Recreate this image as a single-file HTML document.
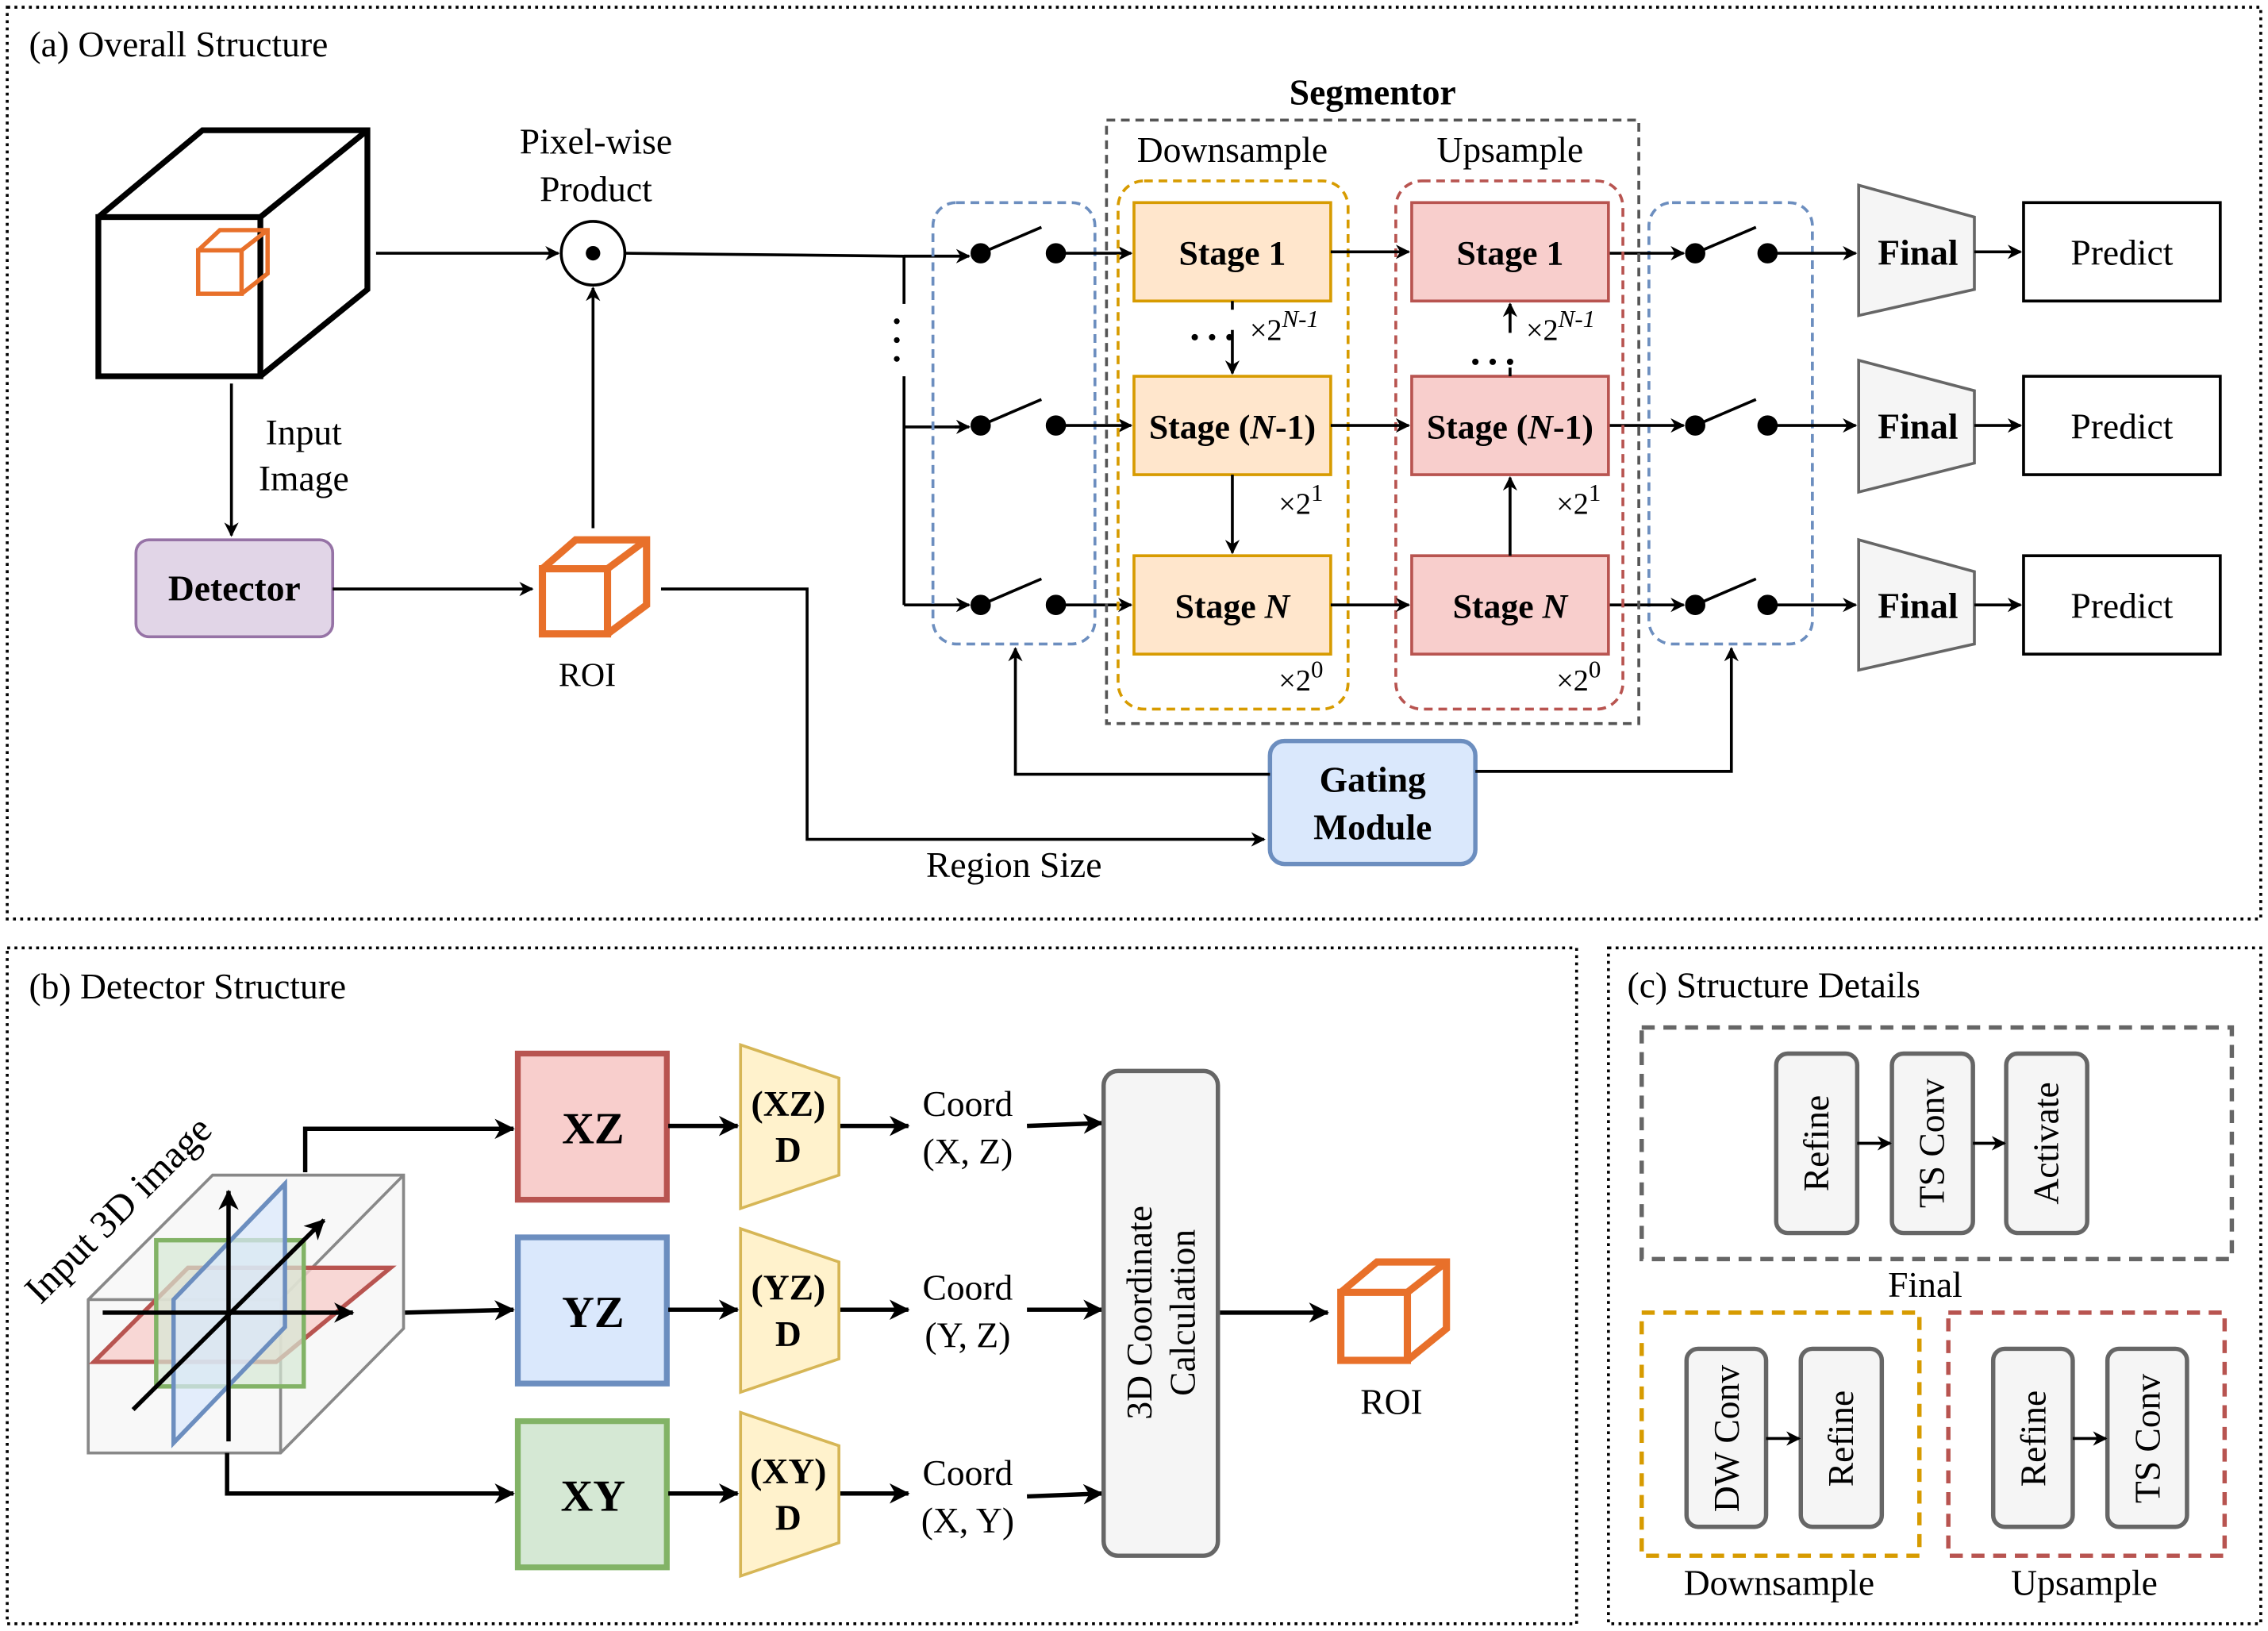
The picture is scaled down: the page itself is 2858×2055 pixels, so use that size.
<!DOCTYPE html>
<html><head><meta charset="utf-8"><style>
html,body{margin:0;padding:0;background:#fff;}
svg{display:block;}
text{font-family:"Liberation Serif",serif;fill:#000;}
.b{font-weight:bold;}
</style></head><body>
<svg width="2858" height="2055" viewBox="0 0 1568 1127" preserveAspectRatio="none" xmlns="http://www.w3.org/2000/svg">
<defs>
<marker id="a" markerWidth="10" markerHeight="10" refX="9" refY="5" orient="auto" markerUnits="userSpaceOnUse"><path d="M0,0 L10,5 L0,10 L3,5 z" fill="#000"/></marker>
<marker id="a2" markerWidth="14" markerHeight="14" refX="13" refY="7" orient="auto" markerUnits="userSpaceOnUse"><path d="M0,0 L14,7 L0,14 L4,7 z" fill="#000"/></marker>
</defs>
<g fill="none" stroke="#000" stroke-width="2" stroke-dasharray="2,3">
<rect x="5" y="5" width="1558" height="630"/>
<rect x="5" y="655" width="1085" height="467"/>
<rect x="1112" y="655" width="451" height="467"/>
</g>
<text x="20" y="39" font-size="25">(a) Overall Structure</text>
<text x="20" y="690" font-size="25">(b) Detector Structure</text>
<text x="1125" y="689" font-size="25">(c) Structure Details</text>

<g fill="none" stroke="#000" stroke-width="4">
<rect x="68" y="150" width="112" height="110"/>
<path d="M68,150 L140,90 L254,90 L254,200 L180,260 M180,150 L254,90"/>
</g>
<g fill="none" stroke="#e8702a" stroke-width="3">
<rect x="137" y="173" width="30" height="30"/><path d="M137,173 L152,159 L185,159 L185,189 L167,203 M167,173 L185,159"/>
</g>
<line x1="260" y1="175" x2="386" y2="175" stroke="#000" stroke-width="2" marker-end="url(#a)"/>
<circle cx="410" cy="175" r="22" fill="#fff" stroke="#000" stroke-width="2"/><circle cx="410" cy="175" r="5"/>
<text x="412" y="106" font-size="25" text-anchor="middle">Pixel-wise</text>
<text x="412" y="139" font-size="25" text-anchor="middle">Product</text>
<line x1="160" y1="265" x2="160" y2="370" stroke="#000" stroke-width="2" marker-end="url(#a)"/>
<text x="210" y="307" font-size="25" text-anchor="middle">Input</text>
<text x="210" y="339" font-size="25" text-anchor="middle">Image</text>
<rect x="94" y="373" width="136" height="67" rx="9" fill="#e1d5e7" stroke="#9673a6" stroke-width="2"/>
<text x="162" y="415" font-size="25" class="b" text-anchor="middle">Detector</text>
<line x1="230" y1="407" x2="368" y2="407" stroke="#000" stroke-width="2" marker-end="url(#a)"/>
<g fill="none" stroke="#e8702a" stroke-width="5">
<rect x="375" y="393" width="45" height="45"/><path d="M375,393 L398,373 L447,373 L447,418 L420,438 M420,393 L447,373"/>
</g>
<text x="406" y="474" font-size="23" text-anchor="middle">ROI</text>
<line x1="410" y1="365" x2="410" y2="199" stroke="#000" stroke-width="2" marker-end="url(#a)"/>
<path d="M457,407 L558,407 L558,580 L874,580" fill="none" stroke="#000" stroke-width="2" marker-end="url(#a)"/>
<text x="701" y="606" font-size="25" text-anchor="middle">Region Size</text>
<rect x="878" y="512" width="142" height="85" rx="10" fill="#dae8fc" stroke="#6c8ebf" stroke-width="3"/>
<text x="949" y="547" font-size="25" class="b" text-anchor="middle">Gating</text>
<text x="949" y="580" font-size="25" class="b" text-anchor="middle">Module</text>
<path d="M878,535 L702,535 L702,448" fill="none" stroke="#000" stroke-width="2" marker-end="url(#a)"/>
<path d="M1020,533 L1197,533 L1197,448" fill="none" stroke="#000" stroke-width="2" marker-end="url(#a)"/>

<path d="M432,175 L625,177 L625,418 M625,295 L668,295 M625,418 L668,418" fill="none" stroke="#000" stroke-width="2"/>
<line x1="625" y1="177" x2="670" y2="177" stroke="#000" stroke-width="2" marker-end="url(#a)"/>
<line x1="660" y1="295" x2="670" y2="295" stroke="#000" stroke-width="2" marker-end="url(#a)"/>
<line x1="660" y1="418" x2="670" y2="418" stroke="#000" stroke-width="2" marker-end="url(#a)"/>
<rect x="614" y="210" width="20" height="50" fill="#fff"/>
<circle cx="620" cy="222" r="2"/><circle cx="620" cy="235" r="2"/><circle cx="620" cy="248" r="2"/>
<rect x="645" y="140" width="112" height="305" rx="16" fill="none" stroke="#6c8ebf" stroke-width="2" stroke-dasharray="6,4"/>
<rect x="1140" y="140" width="113" height="305" rx="16" fill="none" stroke="#6c8ebf" stroke-width="2" stroke-dasharray="6,4"/>
<g stroke="#000" stroke-width="2">
<circle cx="678" cy="175" r="6"/><line x1="678" y1="175" x2="720" y2="157"/><circle cx="730" cy="175" r="6"/><line x1="730" y1="175" x2="782" y2="175" marker-end="url(#a)"/>
<circle cx="678" cy="294" r="6"/><line x1="678" y1="294" x2="720" y2="276"/><circle cx="730" cy="294" r="6"/><line x1="730" y1="294" x2="782" y2="294" marker-end="url(#a)"/>
<circle cx="678" cy="418" r="6"/><line x1="678" y1="418" x2="720" y2="400"/><circle cx="730" cy="418" r="6"/><line x1="730" y1="418" x2="782" y2="418" marker-end="url(#a)"/>
<line x1="1112" y1="175" x2="1164" y2="175" marker-end="url(#a)"/><circle cx="1172" cy="175" r="6"/><line x1="1172" y1="175" x2="1214" y2="157"/><circle cx="1222" cy="175" r="6"/><line x1="1222" y1="175" x2="1283" y2="175" marker-end="url(#a)"/>
<line x1="1112" y1="294" x2="1164" y2="294" marker-end="url(#a)"/><circle cx="1172" cy="294" r="6"/><line x1="1172" y1="294" x2="1214" y2="276"/><circle cx="1222" cy="294" r="6"/><line x1="1222" y1="294" x2="1283" y2="294" marker-end="url(#a)"/>
<line x1="1112" y1="418" x2="1164" y2="418" marker-end="url(#a)"/><circle cx="1172" cy="418" r="6"/><line x1="1172" y1="418" x2="1214" y2="400"/><circle cx="1222" cy="418" r="6"/><line x1="1222" y1="418" x2="1283" y2="418" marker-end="url(#a)"/>
</g>

<rect x="765" y="83" width="368" height="417" fill="none" stroke="#555" stroke-width="2" stroke-dasharray="6,4"/>
<text x="949" y="72" font-size="25" class="b" text-anchor="middle">Segmentor</text>
<text x="852" y="112" font-size="25" text-anchor="middle">Downsample</text>
<text x="1044" y="112" font-size="25" text-anchor="middle">Upsample</text>
<rect x="773" y="125" width="159" height="365" rx="18" fill="none" stroke="#d79b00" stroke-width="2" stroke-dasharray="6,4"/>
<rect x="965" y="125" width="157" height="365" rx="18" fill="none" stroke="#b85450" stroke-width="2" stroke-dasharray="6,4"/>
<g stroke-width="2">
<rect x="784" y="140" width="136" height="68" fill="#ffe6cc" stroke="#d79b00"/>
<rect x="784" y="260" width="136" height="68" fill="#ffe6cc" stroke="#d79b00"/>
<rect x="784" y="384" width="136" height="68" fill="#ffe6cc" stroke="#d79b00"/>
<rect x="976" y="140" width="136" height="68" fill="#f8cecc" stroke="#b85450"/>
<rect x="976" y="260" width="136" height="68" fill="#f8cecc" stroke="#b85450"/>
<rect x="976" y="384" width="136" height="68" fill="#f8cecc" stroke="#b85450"/>
</g>
<g font-size="24" text-anchor="middle">
<text x="852" y="183" class="b">Stage 1</text>
<text x="852" y="303" class="b">Stage (<tspan font-style="italic">N</tspan>-1)</text>
<text x="852" y="427" class="b">Stage <tspan font-style="italic">N</tspan></text>
<text x="1044" y="183" class="b">Stage 1</text>
<text x="1044" y="303" class="b">Stage (<tspan font-style="italic">N</tspan>-1)</text>
<text x="1044" y="427" class="b">Stage <tspan font-style="italic">N</tspan></text>
</g>
<g stroke="#000" stroke-width="2">
<line x1="920" y1="174" x2="974" y2="174" marker-end="url(#a)"/>
<line x1="920" y1="294" x2="974" y2="294" marker-end="url(#a)"/>
<line x1="920" y1="418" x2="974" y2="418" marker-end="url(#a)"/>
<line x1="852" y1="208" x2="852" y2="214"/>
<line x1="852" y1="228" x2="852" y2="258" marker-end="url(#a)"/>
<line x1="852" y1="328" x2="852" y2="382" marker-end="url(#a)"/>
<line x1="1044" y1="384" x2="1044" y2="330" marker-end="url(#a)"/>
<line x1="1044" y1="230" x2="1044" y2="210" marker-end="url(#a)"/>
<line x1="1044" y1="254" x2="1044" y2="260"/>
</g>
<circle cx="826" cy="233" r="2.2"/><circle cx="838" cy="233" r="2.2"/><circle cx="850" cy="233" r="2.2"/>
<circle cx="1020" cy="250" r="2.2"/><circle cx="1032" cy="250" r="2.2"/><circle cx="1044" cy="250" r="2.2"/>
<g font-size="21">
<text x="864" y="235">×2<tspan dy="-9" font-size="17" font-style="italic">N-1</tspan></text>
<text x="1055" y="235">×2<tspan dy="-9" font-size="17" font-style="italic">N-1</tspan></text>
<text x="884" y="355">×2<tspan dy="-9" font-size="17">1</tspan></text>
<text x="1076" y="355">×2<tspan dy="-9" font-size="17">1</tspan></text>
<text x="884" y="477">×2<tspan dy="-9" font-size="17">0</tspan></text>
<text x="1076" y="477">×2<tspan dy="-9" font-size="17">0</tspan></text>
</g>
<g fill="#f5f5f5" stroke="#666" stroke-width="2">
<path d="M1285,128 L1365,150 L1365,200 L1285,218 z"/>
<path d="M1285,249 L1365,270 L1365,320 L1285,340 z"/>
<path d="M1285,373 L1365,395 L1365,445 L1285,463 z"/>
</g>
<g font-size="25" text-anchor="middle">
<text x="1326" y="183" class="b">Final</text><text x="1326" y="303" class="b">Final</text><text x="1326" y="427" class="b">Final</text>
</g>
<g stroke="#000" stroke-width="2">
<line x1="1365" y1="174" x2="1397" y2="174" marker-end="url(#a)"/>
<line x1="1365" y1="294" x2="1397" y2="294" marker-end="url(#a)"/>
<line x1="1365" y1="418" x2="1397" y2="418" marker-end="url(#a)"/>
<rect x="1399" y="140" width="136" height="68" fill="#fff"/>
<rect x="1399" y="260" width="136" height="68" fill="#fff"/>
<rect x="1399" y="384" width="136" height="68" fill="#fff"/>
</g>
<g font-size="25" text-anchor="middle">
<text x="1467" y="183">Predict</text><text x="1467" y="303">Predict</text><text x="1467" y="427">Predict</text>
</g>

<path d="M147,812 L279,812 L279,918 L194,1004 L61,1004 L61,898 z" fill="#f8f8f8" stroke="#888" stroke-width="2"/>
<path d="M61,898 L194,898 L194,1004 M194,898 L279,812" fill="none" stroke="#888" stroke-width="2"/>
<path d="M65,941 L130,876 L270,876 L191,941 z" fill="#f8cecc" fill-opacity="0.8" stroke="#b85450" stroke-width="3"/>
<rect x="108" y="857" width="102" height="101" fill="#d5e8d4" fill-opacity="0.7" stroke="#82b366" stroke-width="3"/>
<path d="M120,997 L120,898 L197,818 L197,917 z" fill="#dae8fc" fill-opacity="0.7" stroke="#6c8ebf" stroke-width="3"/>
<g stroke="#000" stroke-width="3">
<line x1="158" y1="996" x2="158" y2="823" marker-end="url(#a2)"/>
<line x1="71" y1="907" x2="244" y2="907" marker-end="url(#a2)"/>
<line x1="92" y1="974" x2="224" y2="843" marker-end="url(#a2)"/>
</g>
<text x="88" y="842" font-size="27" text-anchor="middle" transform="rotate(-45 88 842)">Input 3D image</text>
<g stroke="#000" stroke-width="3" fill="none">
<path d="M211,810 L211,780 L355,780" marker-end="url(#a2)"/>
<path d="M280,907 L355,905" marker-end="url(#a2)"/>
<path d="M157,1004 L157,1032 L355,1032" marker-end="url(#a2)"/>
</g>
<rect x="358" y="728" width="103" height="101" fill="#f8cecc" stroke="#b85450" stroke-width="4"/>
<rect x="358" y="855" width="103" height="101" fill="#dae8fc" stroke="#6c8ebf" stroke-width="4"/>
<rect x="358" y="982" width="103" height="101" fill="#d5e8d4" stroke="#82b366" stroke-width="4"/>
<g font-size="31" text-anchor="middle">
<text x="410" y="790" class="b">XZ</text><text x="410" y="917" class="b">YZ</text><text x="410" y="1044" class="b">XY</text>
</g>
<g stroke="#000" stroke-width="3">
<line x1="462" y1="778" x2="510" y2="778" marker-end="url(#a2)"/>
<line x1="462" y1="905" x2="510" y2="905" marker-end="url(#a2)"/>
<line x1="462" y1="1032" x2="510" y2="1032" marker-end="url(#a2)"/>
<line x1="580" y1="778" x2="628" y2="778" marker-end="url(#a2)"/>
<line x1="580" y1="905" x2="628" y2="905" marker-end="url(#a2)"/>
<line x1="580" y1="1032" x2="628" y2="1032" marker-end="url(#a2)"/>
<line x1="710" y1="778" x2="762" y2="776" marker-end="url(#a2)"/>
<line x1="710" y1="905" x2="762" y2="905" marker-end="url(#a2)"/>
<line x1="710" y1="1034" x2="762" y2="1032" marker-end="url(#a2)"/>
<line x1="842" y1="907" x2="918" y2="907" marker-end="url(#a2)"/>
</g>
<g fill="#fff2cc" stroke="#d6b656" stroke-width="2">
<path d="M512,722 L580,745 L580,812 L512,835 z"/>
<path d="M512,849 L580,872 L580,939 L512,962 z"/>
<path d="M512,976 L580,999 L580,1066 L512,1089 z"/>
</g>
<g font-size="25" text-anchor="middle">
<text x="545" y="771" class="b">(XZ)</text><text x="545" y="803" class="b">D</text>
<text x="545" y="898" class="b">(YZ)</text><text x="545" y="930" class="b">D</text>
<text x="545" y="1025" class="b">(XY)</text><text x="545" y="1057" class="b">D</text>
</g>
<g font-size="25" text-anchor="middle">
<text x="669" y="771">Coord</text><text x="669" y="804">(X, Z)</text>
<text x="669" y="898">Coord</text><text x="669" y="931">(Y, Z)</text>
<text x="669" y="1026">Coord</text><text x="669" y="1059">(X, Y)</text>
</g>
<rect x="763" y="740" width="79" height="335" rx="10" fill="#f5f5f5" stroke="#666" stroke-width="3"/>
<g transform="translate(802,907) rotate(-90)" font-size="25" text-anchor="middle">
<text x="0" y="-6">3D Coordinate</text><text x="0" y="24">Calculation</text>
</g>
<g fill="none" stroke="#e8702a" stroke-width="5">
<rect x="927" y="893" width="46" height="47"/><path d="M927,893 L952,872 L1000,872 L1000,918 L973,940 M973,893 L1000,872"/>
</g>
<text x="962" y="977" font-size="25" text-anchor="middle">ROI</text>

<rect x="1135" y="710" width="408" height="160" fill="none" stroke="#666" stroke-width="3" stroke-dasharray="9,6"/>
<rect x="1135" y="907" width="192" height="168" fill="none" stroke="#d79b00" stroke-width="3" stroke-dasharray="9,6"/>
<rect x="1347" y="907" width="191" height="168" fill="none" stroke="#b85450" stroke-width="3" stroke-dasharray="9,6"/>
<g fill="#f5f5f5" stroke="#666" stroke-width="3">
<rect x="1228" y="728" width="56" height="124" rx="8"/>
<rect x="1308" y="728" width="56" height="124" rx="8"/>
<rect x="1387" y="728" width="56" height="124" rx="8"/>
<rect x="1166" y="932" width="55" height="123" rx="8"/>
<rect x="1245" y="932" width="56" height="123" rx="8"/>
<rect x="1378" y="932" width="55" height="123" rx="8"/>
<rect x="1457" y="932" width="55" height="123" rx="8"/>
</g>
<g stroke="#000" stroke-width="2">
<line x1="1284" y1="790" x2="1307" y2="790" marker-end="url(#a)"/>
<line x1="1364" y1="790" x2="1386" y2="790" marker-end="url(#a)"/>
<line x1="1221" y1="994" x2="1244" y2="994" marker-end="url(#a)"/>
<line x1="1433" y1="994" x2="1456" y2="994" marker-end="url(#a)"/>
</g>
<g font-size="25" text-anchor="middle">
<text transform="translate(1264,790) rotate(-90)">Refine</text>
<text transform="translate(1344,790) rotate(-90)">TS Conv</text>
<text transform="translate(1423,790) rotate(-90)">Activate</text>
<text transform="translate(1202,994) rotate(-90)">DW Conv</text>
<text transform="translate(1281,994) rotate(-90)">Refine</text>
<text transform="translate(1414,994) rotate(-90)">Refine</text>
<text transform="translate(1493,994) rotate(-90)">TS Conv</text>
<text x="1331" y="896">Final</text>
<text x="1230" y="1102">Downsample</text>
<text x="1441" y="1102">Upsample</text>
</g>
</svg>
</body></html>
